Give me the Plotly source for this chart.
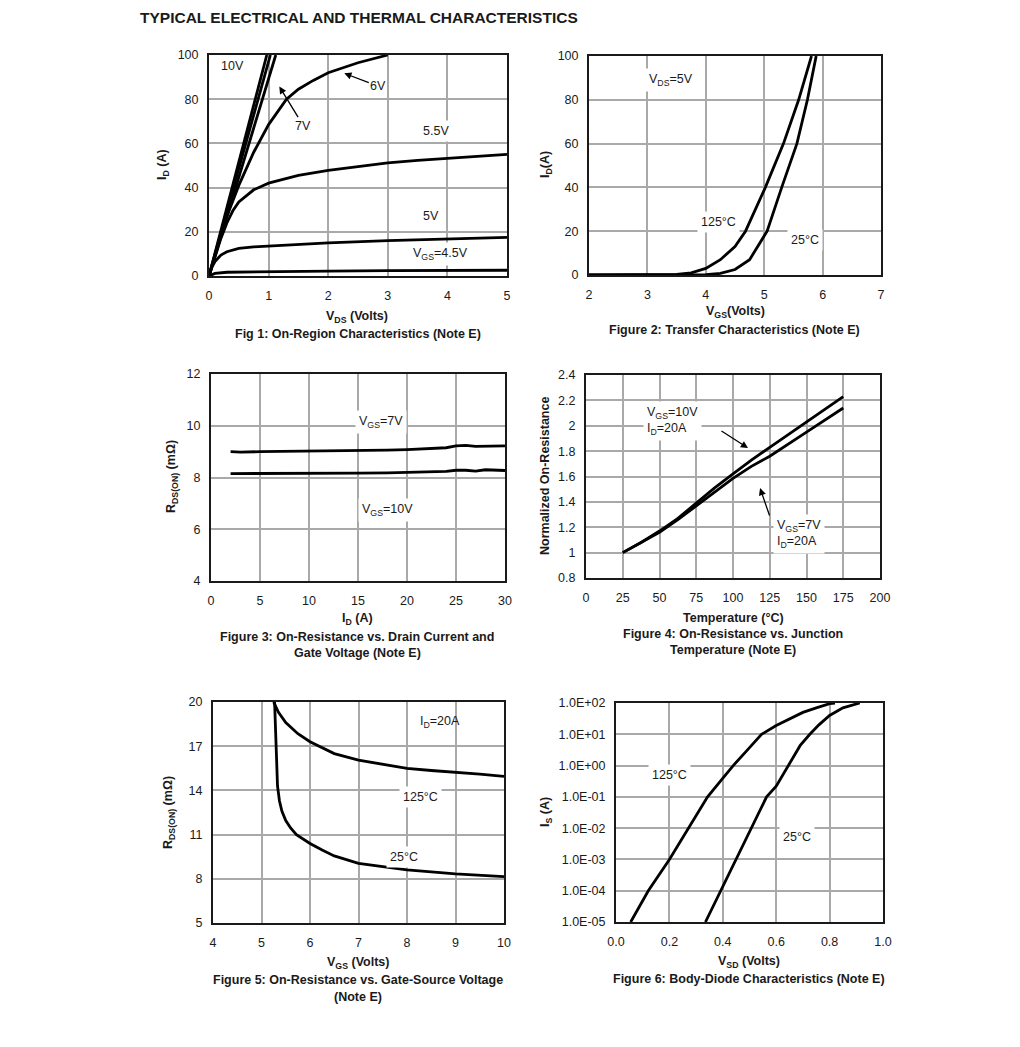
import plotly.graph_objects as go

# ---------------- DATA ----------------
# Fig 1: On-region characteristics (VDS in V, ID in A)
f1_vds_10v = [0.0, 0.97]
f1_id_10v = [0, 100]
f1_vds_8v = [0.0, 1.03]
f1_id_8v = [0, 100]
f1_vds_7v = [0.0, 1.12]
f1_id_7v = [0, 100]
f1_vds_6v = [0.0, 0.1, 0.2, 0.3, 0.4, 0.5, 0.6, 0.75, 1.0, 1.3, 1.5, 1.75, 2.0, 2.5, 3.0]
f1_id_6v = [0, 10, 19, 27, 34, 41, 47, 56, 68.5, 80, 84.5, 88.5, 92, 96.5, 100]
f1_vds_55v = [0.0, 0.1, 0.2, 0.3, 0.4, 0.5, 0.75, 1.0, 1.5, 2.0, 2.5, 3.0, 3.5, 4.0, 4.5, 5.0]
f1_id_55v = [0, 9, 17, 24, 29.5, 33.5, 39, 42, 45.5, 47.8, 49.6, 51.2, 52.3, 53.3, 54.2, 55]
f1_vds_5v = [0.0, 0.05, 0.1, 0.2, 0.3, 0.5, 0.75, 1.0, 1.5, 2.0, 3.0, 4.0, 5.0]
f1_id_5v = [0, 4, 6.5, 9.5, 11, 12.5, 13.2, 13.6, 14.3, 15, 16, 16.9, 17.5]
f1_vds_45v = [0.0, 0.1, 0.3, 1.0, 2.0, 3.0, 4.0, 5.0]
f1_id_45v = [0, 1.2, 1.7, 2.0, 2.2, 2.4, 2.5, 2.6]

# Fig 2: Transfer characteristics (VGS in V, ID in A)
f2_vgs_125 = [2.0, 3.0, 3.5, 3.75, 4.0, 4.25, 4.5, 4.68, 5.02, 5.33, 5.59, 5.81]
f2_id_125 = [0, 0, 0.3, 1, 3, 7, 13, 20, 40, 60, 80, 100]
f2_vgs_25 = [2.0, 3.5, 4.0, 4.25, 4.5, 4.75, 5.05, 5.3, 5.56, 5.74, 5.89]
f2_id_25 = [0, 0, 0.2, 0.7, 2.5, 7, 20, 40, 60, 80, 100]

# Fig 3: On-resistance vs drain current (ID in A, RDS in mOhm)
f3_id = [2, 3, 5, 8, 10, 12, 15, 18, 20, 22, 24, 25, 26, 27, 28, 30]
f3_r_7v = [9.0, 8.98, 9.0, 9.01, 9.02, 9.02, 9.04, 9.06, 9.08, 9.11, 9.15, 9.22, 9.24, 9.2, 9.2, 9.22]
f3_r_10v = [8.15, 8.15, 8.16, 8.17, 8.15, 8.16, 8.17, 8.18, 8.2, 8.22, 8.24, 8.28, 8.28, 8.25, 8.3, 8.27]

# Fig 4: Normalized on-resistance vs temperature
f4_temp = [25, 37.5, 50, 62.5, 75, 87.5, 100, 112.5, 125, 150, 175]
f4_n_10v = [1.0, 1.08, 1.17, 1.27, 1.39, 1.51, 1.62, 1.73, 1.83, 2.03, 2.23]
f4_n_7v = [1.0, 1.08, 1.16, 1.26, 1.37, 1.48, 1.585, 1.68, 1.76, 1.95, 2.14]

# Fig 5: On-resistance vs gate-source voltage (VGS in V, RDS in mOhm)
f5_vgs_125 = [5.25, 5.35, 5.5, 5.75, 6.0, 6.25, 6.5, 7.0, 7.5, 8.0, 8.5, 9.0, 9.5, 10.0]
f5_r_125 = [20, 19.3, 18.6, 17.85, 17.3, 16.9, 16.5, 16.05, 15.75, 15.5, 15.35, 15.25, 15.1, 14.95]
f5_vgs_25 = [5.27, 5.29, 5.31, 5.33, 5.37, 5.42, 5.5, 5.6, 5.72, 5.85, 6.0, 6.25, 6.5, 7.0, 7.5, 8.0, 9.0, 10.0]
f5_r_25 = [20, 18, 16, 14.3, 13.3, 12.6, 11.95, 11.45, 11.0, 10.7, 10.4, 9.95, 9.55, 9.05, 8.8, 8.6, 8.33, 8.15]

# Fig 6: Body-diode characteristics (VSD in V, IS in A)
f6_vsd_125 = [0.055, 0.121, 0.2, 0.273, 0.343, 0.395, 0.439, 0.49, 0.545, 0.6, 0.65, 0.7, 0.75, 0.8, 0.82]
f6_is_125 = [1e-5, 1e-4, 1e-3, 1e-2, 1e-1, 0.35, 1, 3, 10, 19, 30, 50, 70, 95, 100]
f6_vsd_25 = [0.335, 0.393, 0.451, 0.509, 0.564, 0.6, 0.645, 0.69, 0.726, 0.76, 0.8, 0.85, 0.913]
f6_is_25 = [1e-5, 1e-4, 1e-3, 1e-2, 1e-1, 0.22, 1, 4.4, 10, 20, 40, 70, 100]

f6_ytick_vals = [1e-5, 1e-4, 1e-3, 1e-2, 1e-1, 1, 10, 100]
f6_ytick_text = ["1.0E-05", "1.0E-04", "1.0E-03", "1.0E-02", "1.0E-01", "1.0E+00", "1.0E+01", "1.0E+02"]

# ---------------- LAYOUT HELPERS ----------------
W, H = 1020, 1047
FONT = "Liberation Sans, Arial, Helvetica, sans-serif"
TXT = "#1a1a1a"
FS = 12.5


def px(x):
    return x / W


def py(y):
    return 1 - y / H


fig = go.Figure()

LINE = dict(color="black", width=2.8)


def add_line(x, y, n):
    fig.add_trace(go.Scatter(x=x, y=y, mode="lines", line=LINE,
                             xaxis="x" if n == 1 else f"x{n}",
                             yaxis="y" if n == 1 else f"y{n}",
                             showlegend=False, hoverinfo="skip"))


add_line(f1_vds_10v, f1_id_10v, 1)
add_line(f1_vds_8v, f1_id_8v, 1)
add_line(f1_vds_7v, f1_id_7v, 1)
add_line(f1_vds_6v, f1_id_6v, 1)
add_line(f1_vds_55v, f1_id_55v, 1)
add_line(f1_vds_5v, f1_id_5v, 1)
add_line(f1_vds_45v, f1_id_45v, 1)

add_line(f2_vgs_125, f2_id_125, 2)
add_line(f2_vgs_25, f2_id_25, 2)

add_line(f3_id, f3_r_7v, 3)
add_line(f3_id, f3_r_10v, 3)

add_line(f4_temp, f4_n_10v, 4)
add_line(f4_temp, f4_n_7v, 4)

add_line(f5_vgs_125, f5_r_125, 5)
add_line(f5_vgs_25, f5_r_25, 5)

add_line(f6_vsd_125, f6_is_125, 6)
add_line(f6_vsd_25, f6_is_25, 6)

# plot-area boxes in pixels (x0, x1, y0(top), y1(bottom))
boxes = {
    1: (209, 507, 55, 276),
    2: (589, 881, 56, 275),
    3: (211, 505, 374, 581),
    4: (586, 880, 375, 578),
    5: (213, 504, 702, 923),
    6: (616, 883, 703, 922),
}

axcommon = dict(showline=True, mirror=True, linecolor="#1a1a1a", linewidth=2,
                showgrid=True, gridcolor="#a9a9a9", gridwidth=2, zeroline=False,
                ticks="", tickfont=dict(family=FONT, size=FS, color=TXT),
                fixedrange=True, automargin=False)

xspecs = {
    1: dict(range=[0, 5], tickvals=[0, 1, 2, 3, 4, 5]),
    2: dict(range=[2, 7], tickvals=[2, 3, 4, 5, 6, 7]),
    3: dict(range=[0, 30], tickvals=[0, 5, 10, 15, 20, 25, 30]),
    4: dict(range=[0, 200], tickvals=[0, 25, 50, 75, 100, 125, 150, 175, 200]),
    5: dict(range=[4, 10], tickvals=[4, 5, 6, 7, 8, 9, 10]),
    6: dict(range=[0, 1.0], tickvals=[0, 0.2, 0.4, 0.6, 0.8, 1.0],
            ticktext=["0.0", "0.2", "0.4", "0.6", "0.8", "1.0"]),
}
yspecs = {
    1: dict(range=[0, 100], tickvals=[0, 20, 40, 60, 80, 100]),
    2: dict(range=[0, 100], tickvals=[0, 20, 40, 60, 80, 100]),
    3: dict(range=[4, 12], tickvals=[4, 6, 8, 10, 12]),
    4: dict(range=[0.8, 2.4], tickvals=[0.8, 1.0, 1.2, 1.4, 1.6, 1.8, 2.0, 2.2, 2.4],
            ticktext=["0.8", "1", "1.2", "1.4", "1.6", "1.8", "2", "2.2", "2.4"]),
    5: dict(range=[5, 20], tickvals=[5, 8, 11, 14, 17, 20]),
    6: dict(type="log", range=[-5, 2], tickvals=f6_ytick_vals, ticktext=f6_ytick_text),
}

layout_axes = {}
for n, (x0, x1, y0, y1) in boxes.items():
    xa = "xaxis" if n == 1 else f"xaxis{n}"
    ya = "yaxis" if n == 1 else f"yaxis{n}"
    xn = "x" if n == 1 else f"x{n}"
    yn = "y" if n == 1 else f"y{n}"
    layout_axes[xa] = dict(axcommon, domain=[px(x0), px(x1)], anchor=yn,
                           ticklabelstandoff=7, **xspecs[n])
    layout_axes[ya] = dict(axcommon, domain=[py(y1), py(y0)], anchor=xn,
                           ticklabelstandoff=6, **yspecs[n])

fig.update_layout(template="none", width=W, height=H,
                  margin=dict(l=0, r=0, t=0, b=0, pad=0),
                  paper_bgcolor="white", plot_bgcolor="white",
                  showlegend=False, **layout_axes)

ann = []


def ptext(text, x, y, size=FS, bold=True, angle=0, xanchor="center"):
    t = f"<b>{text}</b>" if bold else text
    ann.append(dict(text=t, x=px(x), y=py(y), xref="paper", yref="paper",
                    showarrow=False, xanchor=xanchor, yanchor="middle",
                    textangle=angle, font=dict(family=FONT, size=size, color=TXT)))


def dlabel(text, x, y, n, bg=True, align="center", xanchor="center"):
    xr = "x" if n == 1 else f"x{n}"
    yr = "y" if n == 1 else f"y{n}"
    ann.append(dict(text=text, x=x, y=y, xref=xr, yref=yr, showarrow=False,
                    xanchor=xanchor, yanchor="middle", align=align,
                    bgcolor="white" if bg else None, borderpad=3,
                    font=dict(family=FONT, size=FS, color=TXT)))


def darrow(text, x, y, ax, ay, n):
    xr = "x" if n == 1 else f"x{n}"
    yr = "y" if n == 1 else f"y{n}"
    ann.append(dict(text=text, x=x, y=y, xref=xr, yref=yr, showarrow=True,
                    ax=ax, ay=ay, arrowhead=2, arrowsize=1.1, arrowwidth=1.3,
                    arrowcolor="black", standoff=0,
                    font=dict(family=FONT, size=FS, color=TXT)))


# Main title
ptext("TYPICAL ELECTRICAL AND THERMAL CHARACTERISTICS", 138, 17, size=15.5, xanchor="left")

# Fig 1 texts
ptext("I<sub>D</sub> (A)", 163, 165, angle=-90)
ptext("V<sub>DS</sub> (Volts)", 357, 317)
ptext("Fig 1: On-Region Characteristics (Note E)", 358, 334)
dlabel("10V", 0.13, 95, 1, bg=False, xanchor="left")
darrow("7V", 1.18, 85.7, 24, 39, 1)
darrow("6V", 2.27, 91.7, 34, 13, 1)
dlabel("5.5V", 3.81, 65.6, 1)
dlabel("5V", 3.72, 27, 1)
dlabel("V<sub>GS</sub>=4.5V", 3.88, 10, 1)

# Fig 2 texts
ptext("I<sub>D</sub>(A)", 546, 165, angle=-90)
ptext("V<sub>GS</sub>(Volts)", 735, 312)
ptext("Figure 2: Transfer Characteristics (Note E)", 734, 330)
dlabel("V<sub>DS</sub>=5V", 3.40, 89, 2)
dlabel("125°C", 4.21, 24.2, 2)
dlabel("25°C", 5.70, 16, 2)

# Fig 3 texts
ptext("R<sub>DS(ON)</sub> (mΩ)", 172, 477, angle=-90)
ptext("I<sub>D</sub> (A)", 357, 619)
ptext("Figure 3: On-Resistance vs. Drain Current and", 357, 637)
ptext("Gate Voltage (Note E)", 357, 653)
dlabel("V<sub>GS</sub>=7V", 17.35, 10.15, 3)
dlabel("V<sub>GS</sub>=10V", 18.06, 6.74, 3)

# Fig 4 texts
ptext("Normalized On-Resistance", 545, 476, angle=-90)
ptext("Temperature (°C)", 733, 618)
ptext("Figure 4: On-Resistance vs. Junction", 733, 634)
ptext("Temperature (Note E)", 733, 650)
dlabel("V<sub>GS</sub>=10V<br>I<sub>D</sub>=20A", 39.0, 2.04, 4, align="left", xanchor="left")
dlabel("V<sub>GS</sub>=7V<br>I<sub>D</sub>=20A", 127.0, 1.147, 4, align="left", xanchor="left")
darrow("", 110.2, 1.824, -28, -18, 4)
darrow("", 118.4, 1.509, 10, 29, 4)

# Fig 5 texts
ptext("R<sub>DS(ON)</sub> (mΩ)", 169, 813, angle=-90)
ptext("V<sub>GS</sub> (Volts)", 358, 963)
ptext("Figure 5: On-Resistance vs. Gate-Source Voltage", 358, 980)
ptext("(Note E)", 358, 997)
dlabel("I<sub>D</sub>=20A", 8.68, 18.65, 5, bg=False)
dlabel("125°C", 8.27, 13.55, 5)
dlabel("25°C", 7.94, 9.48, 5)

# Fig 6 texts
ptext("I<sub>S</sub> (A)", 546, 812, angle=-90)
ptext("V<sub>SD</sub> (Volts)", 749, 962)
ptext("Figure 6: Body-Diode Characteristics (Note E)", 749, 979)
dlabel("125°C", 0.202, -0.30, 6)
dlabel("25°C", 0.678, -2.28, 6)

fig.update_layout(annotations=ann)

fig.write_html("out.html",
               config={"displayModeBar": False},
               post_script="document.body.style.margin='0px';"
                           "document.body.style.padding='0px';"
                           "document.body.style.overflow='hidden';")
